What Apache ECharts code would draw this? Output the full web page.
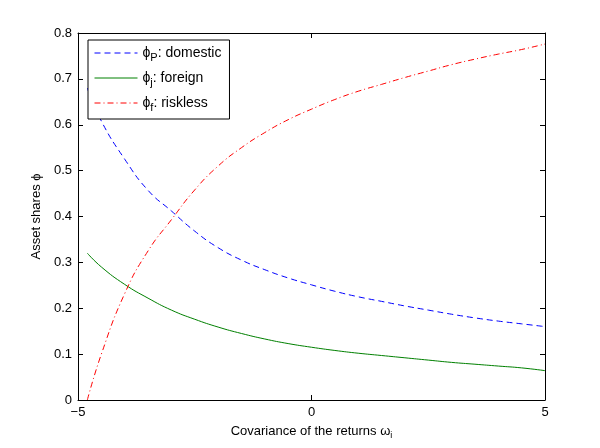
<!DOCTYPE html>
<html>
<head>
<meta charset="utf-8">
<script src="https://cdn.jsdelivr.net/npm/echarts@6/dist/echarts.min.js"></script>
<style>html,body{margin:0;padding:0;background:#fff}#c{width:600px;height:448px}</style>
</head>
<body>
<div id="c"></div>
<script>
var omega = [-4.8,-4.5,-4,-3.5,-3,-2.5,-2,-1.5,-1,-0.5,0,0.5,1,1.5,2,2.5,3,3.5,4,4.5,5];
var domestic = [0.68,0.608,0.525,0.457,0.412,0.368,0.332,0.305,0.284,0.266,0.251,0.237,0.225,0.215,0.205,0.196,0.187,0.179,0.172,0.166,0.16];
var foreign = [0.32,0.29,0.252,0.222,0.196,0.176,0.159,0.145,0.133,0.123,0.115,0.108,0.102,0.097,0.092,0.087,0.082,0.078,0.074,0.070,0.064];
var riskless = [0,0.1,0.232,0.325,0.393,0.458,0.51,0.55,0.583,0.611,0.634,0.655,0.673,0.688,0.703,0.717,0.731,0.743,0.754,0.764,0.776];
var xTicks = [-5,0,5];
var yTicks = [0,0.1,0.2,0.3,0.4,0.5,0.6,0.7,0.8];

function pairs(ys){ return omega.map(function(x,i){ return [x, ys[i]]; }); }
var font = 'Liberation Sans, Arial, Helvetica, sans-serif';
var chart = echarts.init(document.getElementById('c'), null, {renderer:'canvas'});
var axisLine = {show:true, onZero:false, lineStyle:{color:'#000', width:1}};
var tick = {show:true, inside:true, length:5, lineStyle:{color:'#000'}};
chart.setOption({
  animation:false,
  backgroundColor:'#fff',
  grid:{left:78, right:55, top:33, bottom:48, containLabel:false},
  xAxis:[{
    type:'value', min:-5, max:5, interval:5, position:'bottom',
    axisLine:axisLine, axisTick:tick, splitLine:{show:false},
    axisLabel:{color:'#000', fontSize:13, fontFamily:font, margin:6,
      formatter:function(v){ return v<0 ? '\u2212'+Math.abs(v) : String(v); }},
    name:'{t|Covariance of the returns ω}{s|i}', nameLocation:'middle', nameGap:22,
    nameTextStyle:{rich:{t:{fontSize:13,fontFamily:font,color:'#000'},
                         s:{fontSize:9,fontFamily:font,color:'#000',padding:[9,0,0,0]}}}
  },{
    type:'value', min:-5, max:5, interval:5, position:'top',
    axisLine:axisLine, axisTick:tick, axisLabel:{show:false}, splitLine:{show:false}
  }],
  yAxis:[{
    type:'value', min:0, max:0.8, interval:0.1, position:'left',
    axisLine:axisLine, axisTick:tick, splitLine:{show:false},
    axisLabel:{color:'#000', fontSize:13, fontFamily:font, margin:6,
      formatter:function(v){ return String(Math.round(v*10)/10); }},
    name:'Asset shares ϕ', nameLocation:'middle', nameGap:32,
    nameTextStyle:{fontSize:13, fontFamily:font, color:'#000'}
  },{
    type:'value', min:0, max:0.8, interval:0.1, position:'right',
    axisLine:axisLine, axisTick:tick, axisLabel:{show:false}, splitLine:{show:false}
  }],
  legend:{
    orient:'vertical', left:88, top:40,
    backgroundColor:'#fff', borderColor:'#000', borderWidth:1, borderRadius:0,
    padding:[6,8,6,6], itemGap:8, itemWidth:43, itemHeight:16,
    itemStyle:{opacity:0},
    lineStyle:{width:1},
    data:['domestic','foreign','riskless'],
    formatter:function(n){
      var sub = {domestic:'P', foreign:'j', riskless:'f'}[n];
      return '{a|ϕ}{s|'+sub+'}{a|: '+n+'}';
    },
    textStyle:{color:'#000', fontFamily:font, fontSize:14,
      rich:{a:{fontSize:14,fontFamily:font,color:'#000'},
            s:{fontSize:11,fontFamily:font,color:'#000',padding:[9,0,0,0]}}}
  },
  series:[
    {name:'domestic', type:'line', data:pairs(domestic), smooth:0.5, showSymbol:false, symbol:'none',
     lineStyle:{color:'#0000ff', width:1, type:[6,4]}, itemStyle:{color:'#0000ff'}},
    {name:'foreign', type:'line', data:pairs(foreign), smooth:0.5, showSymbol:false, symbol:'none',
     lineStyle:{color:'#008000', width:1, type:'solid'}, itemStyle:{color:'#008000'}},
    {name:'riskless', type:'line', data:pairs(riskless), smooth:0.5, showSymbol:false, symbol:'none',
     lineStyle:{color:'#ff0000', width:1, type:[6,3,1,3]}, itemStyle:{color:'#ff0000'}}
  ]
});
</script>
</body>
</html>
